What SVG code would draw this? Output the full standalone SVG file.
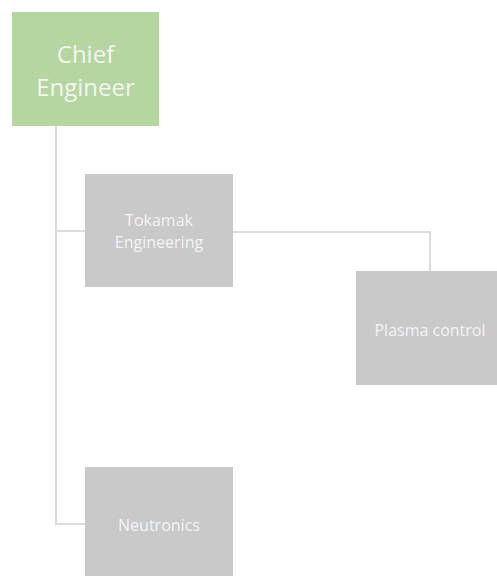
<svg xmlns="http://www.w3.org/2000/svg" width="497" height="576" viewBox="0 0 497 576">
<style>
.box{fill:#c9c9c9}
.lbl{fill:#f4f4f4;font-family:"Open Sans","Liberation Sans",sans-serif;text-anchor:middle}
.sm{font-size:16px}
.conn{stroke:#dcdcdc;stroke-width:2;fill:none}
</style>
<rect width="497" height="576" fill="#ffffff"/>
<g id="connectors">
<path class="conn" d="M56,126 V524 H85"/>
<path class="conn" d="M56,231 H85"/>
<path class="conn" d="M233,232 H430 V271"/>
</g>
<g id="chief">
<rect x="12" y="12" width="147" height="114" fill="#b5d6a0"/>
<text class="lbl" x="85.5" y="63" font-size="24">Chief</text>
<text class="lbl" x="85.5" y="96" font-size="24">Engineer</text>
</g>
<g id="tokamak">
<rect class="box" x="85" y="174" width="148" height="113"/>
<text class="lbl sm" x="159" y="226">Tokamak</text>
<text class="lbl sm" x="159" y="248">Engineering</text>
</g>
<g id="plasma">
<rect class="box" x="356" y="271" width="148" height="114"/>
<text class="lbl sm" x="430" y="336">Plasma control</text>
</g>
<g id="neutronics">
<rect class="box" x="85" y="467" width="148" height="114"/>
<text class="lbl sm" x="159" y="531">Neutronics</text>
</g>
</svg>
